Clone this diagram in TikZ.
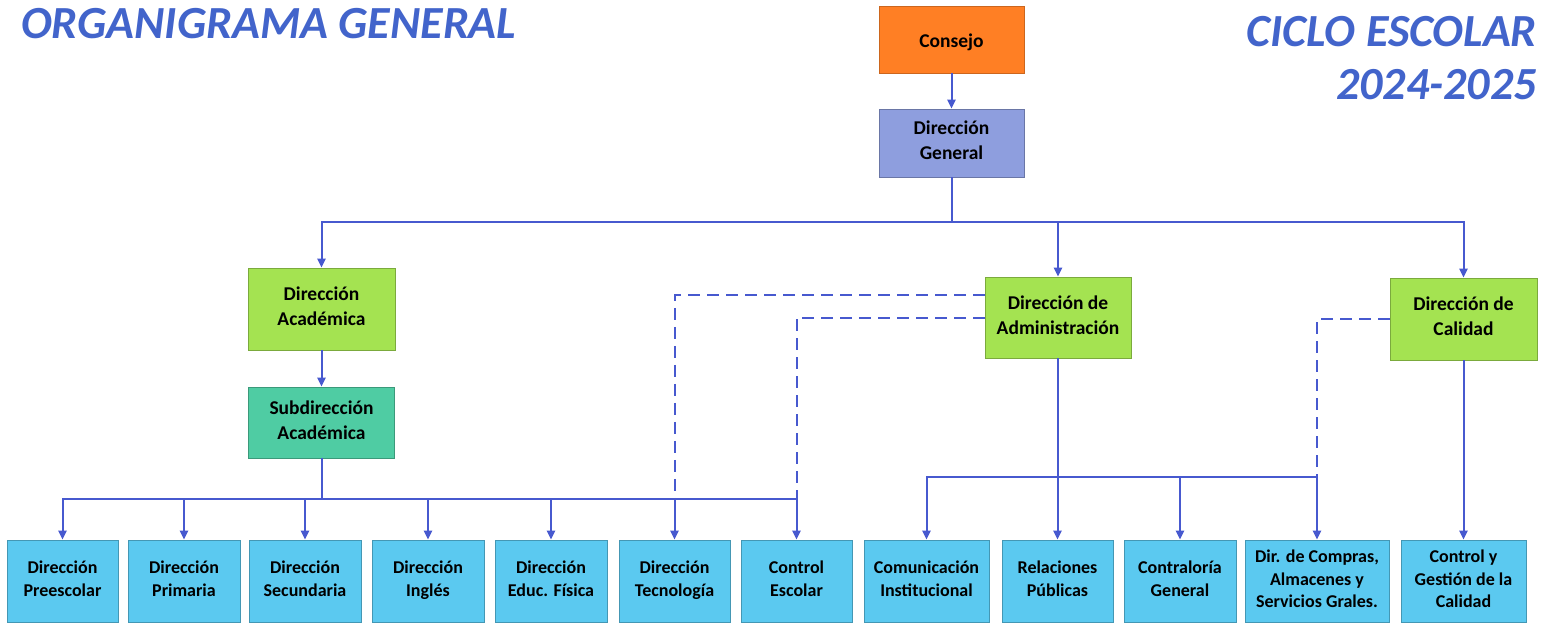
\documentclass[tikz,border=0pt]{standalone}
\usepackage{fontspec}
\setmainfont{Carlito}
\usetikzlibrary{arrows.meta}
\definecolor{lineblue}{HTML}{4759CF}
\definecolor{titleblue}{HTML}{4264CB}
\definecolor{orangeF}{HTML}{FF7F24}
\definecolor{dgblue}{HTML}{8E9EDE}
\definecolor{greenF}{HTML}{A4E351}
\definecolor{tealF}{HTML}{4FCCA3}
\definecolor{skyF}{HTML}{5BC9F0}
\newcommand\topstrutx{\rule{0pt}{1.1em}}
\newcommand\botstrutx{\rule[-0.25em]{0pt}{0.25em}}
\begin{document}
\begin{tikzpicture}[x=1pt,y=-1pt,
  basebox/.style={line width=0.7pt, inner sep=0pt, align=center, text=black,
                  execute at begin node=\topstrutx, execute at end node=\botstrutx},
  topbox/.style={basebox, font=\bfseries\fontsize{19.5}{25}\selectfont},
  botbox/.style={basebox, draw=skyF!75!black, fill=skyF, minimum height=82pt,
                 font=\bfseries\fontsize{18}{22.5}\selectfont},
  line/.style={draw=lineblue, line width=2pt},
  conn/.style={line, -{Triangle[length=9pt,width=8pt]}},
  dashline/.style={line, dash pattern=on 12pt off 7pt},
  title/.style={text=titleblue, font=\bfseries\itshape\fontsize{46}{52}\selectfont, inner sep=0pt}
]
\useasboundingbox (0,0) rectangle (1545,624);
\fill[white] (0,0) rectangle (1545,624);

% titles
\node[title, anchor=base west] (t1) at (21,38) {ORGANIGRAMA GENERAL};
\node[title, anchor=base east] (t2) at (1537,46) {CICLO ESCOLAR};
\node[title, anchor=base east] (t3) at (1537,99) {2024-2025};

% upper boxes
\node[topbox, draw=orangeF!80!black, fill=orangeF, minimum width=145pt, minimum height=67pt] (consejo) at (951.5,39.5) {Consejo};
\node[topbox, draw=dgblue!75!black, fill=dgblue, minimum width=145pt, minimum height=68pt] (dg) at (951.5,143) {Dirección\\General};
\node[topbox, draw=greenF!75!black, fill=greenF, minimum width=147pt, minimum height=82pt] (acad) at (321.5,309) {Dirección\\Académica};
\node[topbox, draw=tealF!75!black, fill=tealF, minimum width=146pt, minimum height=71pt] (subdir) at (321.5,422.5) {Subdirección\\Académica};
\node[topbox, draw=greenF!75!black, fill=greenF, minimum width=146pt, minimum height=81pt] (adm) at (1058,317.5) {Dirección de\\Administración};
\node[topbox, draw=greenF!75!black, fill=greenF, minimum width=147pt, minimum height=82pt] (cal) at (1463.5,319) {Dirección de\\Calidad};

% bottom boxes
\node[botbox, minimum width=111pt] (b1) at (62.5,581) {Dirección\\Preescolar};
\node[botbox, minimum width=112pt] (b2) at (184,581) {Dirección\\Primaria};
\node[botbox, minimum width=112pt] (b3) at (305,581) {Dirección\\Secundaria};
\node[botbox, minimum width=112pt] (b4) at (428,581) {Dirección\\Inglés};
\node[botbox, minimum width=112pt] (b5) at (551,581) {Dirección\\Educ. Física};
\node[botbox, minimum width=111pt] (b6) at (674.5,581) {Dirección\\Tecnología};
\node[botbox, minimum width=111pt] (b7) at (796.5,581) {Control\\Escolar};
\node[botbox, minimum width=125pt] (b8) at (926.5,581) {Comunicación\\Institucional};
\node[botbox, minimum width=111pt] (b9) at (1057.5,581) {Relaciones\\Públicas};
\node[botbox, minimum width=112pt] (b10) at (1180,581) {Contraloría\\General};
\node[botbox, minimum width=144pt] (b11) at (1317,581) {Dir. de Compras,\\Almacenes y\\Servicios Grales.};
\node[botbox, minimum width=125pt] (b12) at (1463.5,581) {Control y\\Gestión de la\\Calidad};

% junction coordinates
\coordinate (busA) at (dg.south |- 0,222);
\coordinate (busB) at (subdir.south |- 0,499);
\coordinate (busC) at (adm.south |- 0,477);

% dashed links
\draw[dashline] (adm.west |- 0,295) -| (b6.north |- busB);
\draw[dashline] (adm.west) -| (b7.north |- busB);
\draw[dashline] (cal.west) -| (b11.north |- busC);

% solid connectors
\draw[conn] (consejo) -- (dg);
\draw[line] (dg.south) -- (busA);
\draw[conn] (busA) -| (acad.north);
\draw[conn] (busA) -| (cal.north);
\draw[conn] (adm.north |- busA) -- (adm.north);
\draw[conn] (acad) -- (subdir);
\draw[line] (subdir.south) -- (busB);
\foreach \b in {b1,b2,b3,b4,b5,b6,b7} {\draw[conn] (busB) -| (\b.north);}
\draw[line] (adm.south) -- (busC);
\foreach \b in {b8,b9,b10,b11} {\draw[conn] (busC) -| (\b.north);}
\draw[conn] (cal.south) -- (b12.north);
\end{tikzpicture}
\end{document}
